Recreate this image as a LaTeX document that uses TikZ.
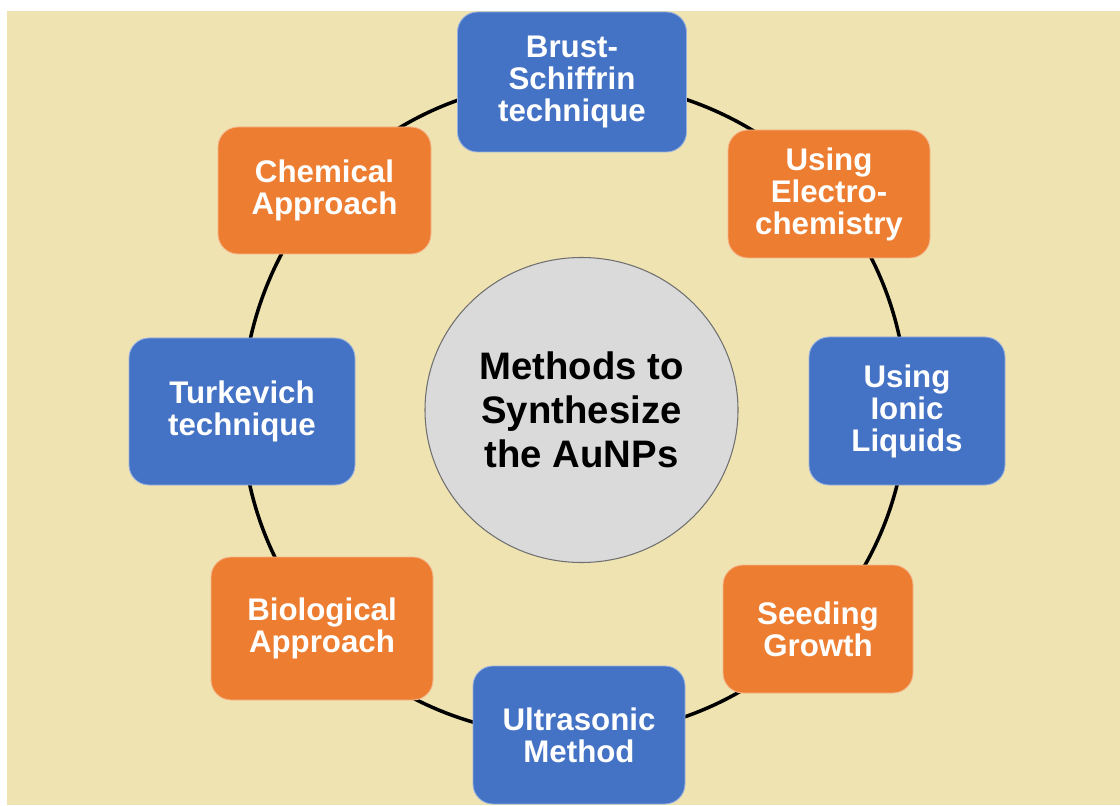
\documentclass[tikz,border=0pt]{standalone}
\usepackage{fontspec}
\setmainfont{Liberation Sans}
\usepackage{tikz}
\usetikzlibrary{shapes.geometric}
\usetikzlibrary{backgrounds}
\definecolor{paper}{HTML}{EFE3B1}
\definecolor{boxblue}{HTML}{4472C4}
\definecolor{boxorange}{HTML}{ED7D31}
\definecolor{hubgray}{HTML}{DADADA}
\definecolor{hubline}{HTML}{707070}
\tikzset{
  methodbox/.style={rectangle, rounded corners=0.4cm, fill=#1, draw=#1!55!white,
    line width=0.5pt, text=white, align=center, inner sep=0pt,
    font=\bfseries\fontsize{17.8}{18.2}\selectfont},
  hub/.style={ellipse, fill=hubgray, draw=hubline, line width=0.6pt, inner sep=0pt,
    align=center, font=\bfseries\fontsize{21.8}{25}\selectfont},
  ring/.style={line width=2pt, black, looseness=0.89},
}

\begin{document}
\begin{tikzpicture}
      \useasboundingbox (0,0) rectangle (22.4,16.1); %page

      %CENTRE
      \node[hub, minimum width=6.26cm, minimum height=6.10cm] (hub) at (11.63,7.90) {Methods to\\Synthesize\\the AuNPs};

      %METHODS
      \node[methodbox=boxblue, minimum width=4.58cm, minimum height=2.80cm] (brust) at (11.44,14.46) {Brust-\\Schiffrin\\technique};
      \node[methodbox=boxorange, minimum width=4.04cm, minimum height=2.56cm] (electro) at (16.58,12.22) {Using\\Electro-\\chemistry};
      \node[methodbox=boxblue, minimum width=3.92cm, minimum height=2.96cm] (ionic) at (18.14,7.88) {Using\\Ionic\\Liquids};
      \node[methodbox=boxorange, minimum width=3.80cm, minimum height=2.56cm] (seeding) at (16.36,3.52) {Seeding\\Growth};
      \node[methodbox=boxblue, minimum width=4.24cm, minimum height=2.76cm] (ultra) at (11.58,1.40) {Ultrasonic\\Method};
      \node[methodbox=boxorange, minimum width=4.44cm, minimum height=2.86cm] (bio) at (6.44,3.53) {Biological\\Approach};
      \node[methodbox=boxblue, minimum width=4.52cm, minimum height=2.94cm] (turk) at (4.84,7.87) {Turkevich\\technique};
      \node[methodbox=boxorange, minimum width=4.26cm, minimum height=2.54cm] (chem) at (6.49,12.29) {Chemical\\Approach};

      %RING (behind the boxes)
      \begin{scope}[on background layer]
      \fill[paper] (0.14,0) rectangle (22.4,15.88); %background
      \draw[ring] (brust.center) to[bend left=24.9] (electro.center);
      \draw[ring] (electro.center) to[bend left=20.1] (ionic.center);
      \draw[ring] (ionic.center) to[bend left=20.9] (seeding.center);
      \draw[ring] (seeding.center) to[bend left=23.6] (ultra.center);
      \draw[ring] (ultra.center) to[bend left=25] (bio.center);
      \draw[ring] (bio.center) to[bend left=20.5] (turk.center);
      \draw[ring] (turk.center) to[bend left=19.8] (chem.center);
      \draw[ring] (chem.center) to[bend left=25.2] (brust.center);
      \end{scope}
\end{tikzpicture}
\end{document}
